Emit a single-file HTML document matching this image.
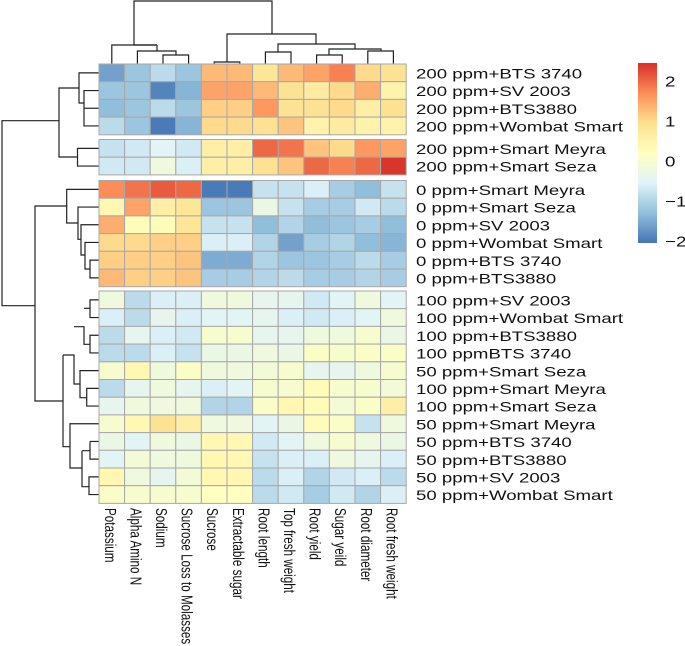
<!DOCTYPE html>
<html><head><meta charset="utf-8"><style>
html,body{margin:0;padding:0;background:#fff;}
svg{display:block;font-family:"Liberation Sans",Arial,sans-serif;}
</style></head><body>
<svg id="chart" width="685" height="646" viewBox="0 0 685 646" xmlns="http://www.w3.org/2000/svg">
<g id="coldend" stroke="#222" stroke-width="1.2" fill="none"></g>
<g id="rowdend" stroke="#222" stroke-width="1.2" fill="none"></g>
<g id="cells"></g>
<g id="rowlabels" font-size="14" fill="#111"></g>
<g id="collabels" font-size="16" fill="#111"></g>
<g id="legend"></g>
</svg>
<script>
const columns = ["Potassium","Alpha Amino N","Sodium","Sucrose Loss to Molasses","Sucrose","Extractable sugar","Root length","Top fresh weight","Root yield","Sugar yeild","Root diameter","Root fresh weight"];
const rows = ["200 ppm+BTS 3740","200 ppm+SV 2003","200 ppm+BTS3880","200 ppm+Wombat Smart","200 ppm+Smart Meyra","200 ppm+Smart Seza","0 ppm+Smart Meyra","0 ppm+Smart Seza","0 ppm+SV 2003"," 0 ppm+Wombat Smart","0 ppm+BTS 3740","0 ppm+BTS3880","100 ppm+SV 2003","100 ppm+Wombat Smart","100 ppm+BTS3880","100 ppmBTS 3740","50 ppm+Smart Seza","100 ppm+Smart Meyra","100 ppm+Smart Seza","50 ppm+Smart Meyra","50 ppm+BTS 3740","50 ppm+BTS3880","50 ppm+SV 2003","50 ppm+Wombat Smart"];
const rowGroups = [0,0,0,0,1,1,2,2,2,2,2,2,3,3,3,3,3,3,3,3,3,3,3,3];
const values = [
[-1.6,-1.2,-0.9,-1.2,1.3,1.3,0.8,1.3,1.5,1.8,1.0,0.9],
[-1.2,-1.2,-1.9,-1.4,1.5,1.5,1.3,0.9,0.7,1.0,1.4,0.5],
[-1.3,-1.2,-0.9,-1.2,1.1,1.1,1.6,0.9,0.9,1.0,0.6,0.9],
[-0.9,-1.2,-2.0,-1.4,1.0,1.0,0.9,1.2,0.5,0.7,0.5,0.5],
[-0.8,-0.7,-0.5,-0.7,0.6,0.6,2.0,1.9,1.2,1.0,1.6,1.5],
[-0.7,-0.7,-0.2,-0.6,0.6,0.6,0.9,1.2,2.0,1.8,2.0,2.4],
[1.7,1.9,2.1,2.0,-2.0,-2.0,-0.8,-0.8,-0.6,-1.1,-1.3,-0.8],
[0.4,1.5,0.6,0.8,-1.2,-1.2,-0.3,-0.8,-1.1,-1.1,-0.7,-0.9],
[1.4,0.3,0.3,0.8,-0.8,-0.8,-1.3,-1.0,-1.3,-1.2,-1.1,-1.3],
[1.0,1.0,1.1,1.1,-0.6,-0.6,-1.0,-1.6,-1.1,-1.0,-1.3,-1.4],
[1.1,1.1,1.1,1.2,-1.5,-1.5,-1.0,-1.2,-1.2,-1.1,-0.9,-1.1],
[1.3,1.1,1.1,1.2,-1.1,-1.1,-1.0,-0.9,-1.1,-1.1,-1.0,-1.1],
[-0.2,-0.9,-0.6,-0.6,-0.2,-0.2,-0.4,-0.4,-0.7,-0.5,-0.2,-0.5],
[-0.6,-0.9,-0.4,-0.6,-0.5,-0.5,-0.4,-0.6,-0.7,-0.6,-0.5,-0.2],
[-0.9,-0.4,-0.6,-0.7,0.0,0.0,-0.4,-0.4,-0.2,-0.2,0.0,-0.3],
[-0.9,-0.9,-0.6,-0.8,-0.3,-0.3,-0.2,-0.3,0.1,0.0,0.1,0.1],
[0.0,0.4,-0.2,0.1,-0.2,-0.2,-0.1,0.0,-0.4,-0.4,-0.2,0.0],
[-0.9,-0.4,-0.2,-0.4,-0.6,-0.5,0.0,0.0,0.3,0.0,0.0,-0.1],
[-0.4,-0.2,-0.2,-0.2,-1.0,-1.0,0.1,0.4,0.3,-0.1,0.1,0.6],
[0.0,0.4,0.9,0.6,-0.2,-0.2,-0.5,-0.3,0.3,0.1,-0.8,-0.2],
[-0.3,-0.5,-0.2,-0.3,0.4,0.4,-0.7,-0.5,-0.2,0.0,-0.2,-0.3],
[-0.5,-0.1,-0.2,-0.2,0.4,0.4,-0.8,-0.6,-0.6,-0.2,-0.4,-0.6],
[0.4,-0.2,-0.4,-0.1,0.4,0.4,-0.9,-0.6,-1.0,-0.7,-0.6,-0.9],
[0.1,0.0,0.0,0.0,0.2,0.2,-0.9,-0.7,-1.1,-0.7,-1.0,-0.6]
];
const legendTicks = [2,1,0,-1,-2];

const NS="http://www.w3.org/2000/svg";
const x0=99, cw=25.6, rh=17.7;
const groupTop=[64,139.5,180.5,291];
const vmin=-2.05, vmax=2.45;
const stops=["#4575B4","#91BFDB","#E0F3F8","#FFFFBF","#FEE090","#FC8D59","#D73027"].map(h=>[parseInt(h.slice(1,3),16),parseInt(h.slice(3,5),16),parseInt(h.slice(5,7),16)]);
function color(v){let t=(v-vmin)/(vmax-vmin);t=Math.max(0,Math.min(1,t))*(stops.length-1);const i=Math.min(Math.floor(t),stops.length-2),f=t-i;const c=stops[i].map((a,k)=>Math.round(a+(stops[i+1][k]-a)*f));return `rgb(${c})`;}
function xScale(c){return x0+c*cw;}
const groupStart=[0,4,6,12];
function yScale(r){const g=rowGroups[r];return groupTop[g]+(r-groupStart[g])*rh;}
function mk(tag,attrs,parent){const e=document.createElementNS(NS,tag);for(const k in attrs)e.setAttribute(k,attrs[k]);parent.appendChild(e);return e;}

const cells=document.getElementById('cells');
values.forEach((row,r)=>row.forEach((v,c)=>{
  const e=mk('rect',{x:xScale(c),y:yScale(r),width:cw,height:rh,fill:color(v),stroke:'#a8a8a8','stroke-width':1},cells);
  
  
}));
const rl=document.getElementById('rowlabels');
rows.forEach((n,r)=>{
  const t=mk('text',{x:0,y:0,transform:`translate(416,${yScale(r)+14.5}) scale(1.33,1)`},rl);t.textContent=n;t.setAttribute('xml:space','preserve');
  
  
});
const cl=document.getElementById('collabels');
columns.forEach((n,c)=>{
  const cx=xScale(c)+cw/2-7;
  const t=mk('text',{x:0,y:0,transform:`translate(${cx},508) rotate(90) scale(0.73,1)`},cl);t.textContent=n;
  
  
});
function path(g,d){const p=mk('path',{d:d},g);}
const cd=document.getElementById('coldend');
const cc=c=>xScale(c)+cw/2;
[
 `M${cc(0)} 64V45H157`, `M157 45H134`, `M134 45V1H272V34`,
 `M157 45V51H${cc(1)}V64`, `M157 51H176V55`, `M${cc(2)} 64V55H${cc(3)}V64`,
 `M${cc(4)} 64V62H${cc(5)}V64`, `M227 62V34H316V44`,
 `M${cc(6)} 64V52H${cc(7)}V64`, `M278 52V44H355V49`,
 `M${cc(8)} 64V55H${cc(9)}V64`, `M329 55V49H381V51`, `M${cc(10)} 64V51H${cc(11)}V64`
].forEach(d=>path(cd,d));
const rd=document.getElementById('rowdend');
const rc=r=>yScale(r)+rh/2;
[
 `M99 ${rc(0)}H79V103H84`, `M99 ${rc(1)}H84V${rc(3)}H99`, `M84 ${rc(2)}H99`,
 `M79 88H59V157H77.5`, `M99 ${rc(4)}H77.5V${rc(5)}H99`,
 `M59 120.7H2V305.7H35`,
 `M99 ${rc(6)}H66.7V223H78`, `M99 ${rc(7)}H78V239.3H81`, `M99 ${rc(8)}H81V255H85`,
 `M99 ${rc(9)}H85V269H90`, `M99 ${rc(10)}H90V${rc(11)}H99`,
 `M66.7 206H35V401H63`,
 `M63 355V446.7H70`, `M63 355H74V384H80`, `M74 326.7H84V344.3H90`, `M84 308.3H90`,
 `M99 ${rc(12)}H90V${rc(13)}H99`, `M99 ${rc(14)}H90V${rc(15)}H99`,
 `M99 ${rc(16)}H80V397.7H86.7`, `M99 ${rc(17)}H86.7V${rc(18)}H99`,
 `M99 ${rc(19)}H70V468H82`, `M90 ${rc(20)}H99M82 450.7H90V${rc(21)}H99M90 ${rc(20)}V450.7`,
 `M82 450.7V486.7H89`, `M99 ${rc(22)}H89V${rc(23)}H99`
].forEach(d=>path(rd,d));
const lg=document.getElementById('legend');
const defs=mk('defs',{},lg);
const grad=mk('linearGradient',{id:'lgrad',x1:0,y1:1,x2:0,y2:0},defs);
stops.forEach((s,i)=>mk('stop',{offset:i/(stops.length-1),'stop-color':`rgb(${s})`},grad));
const bar=mk('rect',{x:638,y:63,width:19,height:180,fill:'url(#lgrad)'},lg);


const lgY=v=>243-(v-vmin)/(vmax-vmin)*180;
legendTicks.forEach(v=>{
  const t=mk('text',{x:0,y:0,'font-size':15,fill:'#111',transform:`translate(665,${lgY(v)+5.5}) scale(1.25,1)`},lg);t.textContent=v<0?'\u2212'+Math.abs(v):String(v);
  
  
});
</script>
</body></html>
